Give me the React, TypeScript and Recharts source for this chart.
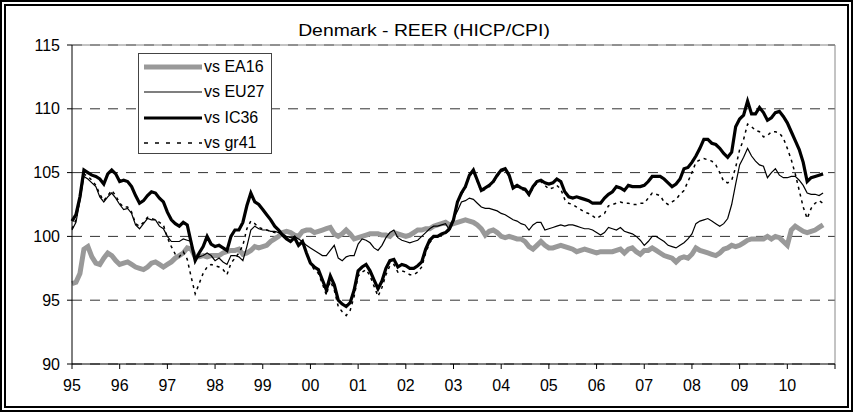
import React from "react";
import {
  LineChart,
  Line,
  XAxis,
  YAxis,
  CartesianGrid,
  ReferenceLine,
} from "recharts";

// monthly values, Jan 1995 .. Oct 2010
const EA16 = [
  96.3, 96.4, 97.1, 99.0, 99.2, 98.4, 97.9, 97.8, 98.3, 98.7, 98.5, 98.1,
  97.8, 97.9, 98.0, 97.8, 97.6, 97.5, 97.4, 97.6, 97.9, 98.0, 97.8, 97.6,
  97.8, 98.0, 98.3, 98.5, 98.7, 99.1, 99.0, 98.4, 98.4, 98.5, 98.4, 98.5,
  98.5, 98.5, 98.7, 98.8, 98.9, 98.9, 99.0, 98.6, 98.7, 98.9, 99.2, 99.1,
  99.2, 99.3, 99.6, 99.8, 100.0, 100.3, 100.4, 100.3, 100.1, 100.0, 100.4, 100.5,
  100.5, 100.3, 100.4, 100.5, 100.6, 100.7, 100.2, 100.0, 100.2, 100.5, 100.2, 99.8,
  99.9, 100.0, 100.1, 100.2, 100.2, 100.2, 100.1, 100.1, 100.0, 100.3, 100.2, 100.1,
  100.0, 100.1, 100.3, 100.5, 100.5, 100.6, 100.6, 100.8, 100.9, 101.0, 101.1, 100.9,
  101.0, 101.1, 101.2, 101.3, 101.2, 101.1, 100.9, 100.6, 100.1, 100.4, 100.5, 100.3,
  100.0, 99.9, 100.0, 99.9, 99.8, 99.8, 99.6, 99.2, 99.0, 99.3, 99.6, 99.3,
  99.1, 99.1, 99.2, 99.3, 99.2, 99.1, 99.0, 98.8, 98.9, 99.0, 98.9, 98.8,
  98.7, 98.8, 98.8, 98.8, 98.8, 98.9, 99.0, 98.7, 99.0, 99.1, 98.8, 98.6,
  98.9, 98.9, 99.1, 98.9, 98.7, 98.5, 98.4, 98.3, 98.0, 98.3, 98.4, 98.3,
  98.6, 99.1, 98.9, 98.8, 98.7, 98.6, 98.5, 98.7, 99.0, 99.1, 99.3, 99.2,
  99.3, 99.5, 99.7, 99.8, 99.8, 99.8, 99.8, 100.0, 99.8, 100.0, 99.9, 99.6,
  99.3, 100.5, 100.8, 100.6, 100.4, 100.3, 100.4, 100.5, 100.7, 100.9,
];

const EU27 = [
  100.5, 101.1, 102.8, 104.7, 104.5, 104.2, 103.9, 103.1, 102.7, 103.1, 103.4, 103.0,
  102.5, 102.1, 102.2, 101.8, 100.9, 100.6, 101.0, 101.4, 101.3, 101.3, 100.8, 100.6,
  100.0, 99.6, 99.6, 99.6, 99.8, 99.7, 99.6, 98.3, 98.4, 98.5, 98.7, 98.5,
  98.1, 98.3, 98.0, 97.8, 98.5, 98.5, 98.4, 98.1, 99.2, 100.5, 100.8, 100.6,
  100.5, 100.5, 100.4, 100.4, 100.3, 100.2, 100.0, 99.9, 100.0, 99.8, 99.6, 99.3,
  99.1, 98.9, 98.7, 98.5, 98.5, 98.9, 99.3, 98.3, 98.1, 98.4, 98.5, 98.5,
  99.4, 99.8, 99.7, 99.5, 99.1, 98.9, 99.3, 99.9, 100.3, 100.5, 99.9, 99.7,
  99.6, 99.5, 99.6, 99.7, 100.0, 100.3, 100.6, 100.8, 100.8, 100.9, 101.0, 100.5,
  101.4, 102.0, 102.7, 102.8, 103.0, 102.9, 102.6, 102.3, 102.2, 102.2, 102.1, 102.0,
  101.8, 101.7, 101.5, 101.3, 101.2, 101.0, 100.9, 100.5, 100.9, 101.1, 101.1, 100.5,
  100.6, 100.7, 100.8, 100.9, 100.8, 100.9, 100.9, 100.8, 100.7, 100.6, 100.6, 100.5,
  100.3, 100.1, 100.3, 100.7, 100.6, 100.5, 100.7, 100.4, 100.3, 100.2, 100.0, 99.7,
  99.3, 99.6, 100.0, 100.0, 99.8, 99.6, 99.3, 99.2, 99.1, 99.3, 99.5, 99.8,
  100.2, 101.0, 101.2, 101.3, 101.4, 101.2, 101.0, 100.8, 101.0, 101.4, 102.5, 104.1,
  105.6, 106.2, 106.9, 106.3, 105.9, 105.6, 105.5, 104.6, 105.0, 105.3, 104.8, 104.6,
  104.6, 104.7, 104.7, 104.4, 104.0, 103.4, 103.3, 103.3, 103.2, 103.4,
];

const IC36 = [
  101.2, 101.7, 103.1, 105.2, 105.0, 104.8, 104.7, 104.5, 104.1, 104.9, 105.2, 104.9,
  104.3, 104.4, 104.3, 103.9, 103.2, 102.6, 102.8, 103.2, 103.5, 103.4, 103.0, 102.7,
  101.9, 101.3, 101.0, 100.8, 101.1, 100.9, 99.5, 98.1, 98.7, 99.2, 100.0, 99.4,
  99.2, 99.3, 99.1, 98.9, 100.0, 100.5, 100.5, 101.1, 102.4, 103.4, 102.7, 102.5,
  102.1, 101.7, 101.3, 100.8, 100.5, 100.1, 99.8, 99.6, 99.9, 99.3, 99.6, 98.7,
  97.9, 97.6, 97.4, 96.6, 95.8, 96.9, 96.2, 95.0, 94.7, 94.5, 94.8, 95.8,
  97.3, 97.6, 97.8, 97.3, 96.6, 95.9, 96.5, 97.5, 98.1, 98.2, 97.6, 97.8,
  97.7, 97.5, 97.5, 97.7, 98.0, 99.0, 99.7, 100.0, 100.0, 100.2, 100.3, 100.6,
  101.3, 102.7, 103.4, 103.9, 104.8, 105.2, 104.4, 103.6, 103.8, 104.0, 104.3, 104.8,
  105.2, 105.3, 104.8, 103.8, 104.0, 103.8, 103.7, 103.3, 103.9, 104.3, 104.4, 104.2,
  104.1, 104.2, 104.5, 104.3, 103.5, 103.1, 103.0, 103.1, 103.0, 102.9, 102.8, 102.6,
  102.6, 102.6, 103.0, 103.3, 103.5, 103.9, 103.8, 103.6, 104.0, 103.9, 103.9, 103.9,
  104.0, 104.3, 104.7, 104.7, 104.7, 104.5, 104.2, 103.9, 104.1, 104.5, 105.3, 105.4,
  105.8, 106.3, 106.9, 107.6, 107.6, 107.3, 107.2, 106.9, 106.5, 106.2, 106.6, 108.6,
  109.2, 109.5, 110.6, 109.6, 109.6, 110.1, 109.7, 109.1, 109.3, 109.7, 109.8, 109.4,
  108.9, 108.2, 107.5, 106.8, 105.8, 104.3, 104.6, 104.7, 104.8, 104.9,
];

const GR41 = [
  100.6, 101.3, 103.0, 104.9, 104.7, 104.4, 104.0, 103.3, 102.8, 103.2, 103.6, 103.2,
  102.6, 102.3, 102.3, 101.9, 101.0, 100.8, 101.1, 101.5, 101.4, 101.3, 101.1, 100.9,
  99.9, 99.2, 98.6, 98.4, 98.8, 98.2, 96.8, 95.5, 96.3, 97.1, 97.6, 97.8,
  97.7, 97.6, 97.4, 97.0, 97.9, 98.3, 98.7, 99.3, 100.6, 101.2, 101.0, 100.7,
  100.6, 100.5, 100.4, 100.3, 100.3, 100.1, 99.9, 99.7, 99.9, 99.4, 99.5, 98.7,
  97.8, 97.4, 97.1, 96.3, 95.4, 96.5, 95.8, 94.5, 94.1, 93.8, 94.2, 95.3,
  96.9, 97.2, 97.4, 96.9, 96.1, 95.3, 96.0, 97.0, 97.7, 97.8, 97.2, 97.3,
  97.2, 97.0, 97.0, 97.2, 97.6, 98.7, 99.5, 99.9, 100.0, 100.1, 100.2, 100.5,
  101.2, 102.6, 103.3, 103.8, 104.7, 105.1, 104.3, 103.5, 103.7, 103.9, 104.2, 104.7,
  105.1, 105.2, 104.7, 103.7, 103.9, 103.7, 103.6, 103.2, 103.8, 104.2, 104.3, 104.0,
  103.7, 103.8, 104.0, 103.7, 102.9, 102.6, 102.5, 102.3, 102.1, 101.9, 101.8, 101.6,
  101.4, 101.6, 101.8, 102.4, 102.5, 102.6, 102.7, 102.6, 102.6, 102.5, 102.5, 102.6,
  102.6, 103.0, 103.4, 103.3, 103.2, 102.7, 102.5, 102.7, 102.9, 103.3, 103.6, 104.3,
  105.0, 105.8, 106.0, 106.1, 106.0, 105.9, 105.6, 105.0, 104.3, 104.2, 104.4, 105.4,
  106.8, 107.6, 108.8, 108.6, 108.3, 108.2, 107.8, 107.9, 108.2, 108.2, 108.1, 107.7,
  106.9, 106.0, 104.9, 103.6, 102.3, 101.4, 102.2, 102.6, 102.8, 102.6,
];

const YEAR_LABELS = ["95", "96", "97", "98", "99", "00", "01", "02", "03", "04", "05", "06", "07", "08", "09", "10"];
const Y_TICKS = [90, 95, 100, 105, 110, 115];

const SERIES = [
  { key: "ea16", name: "vs EA16", color: "#999999", width: 5, dash: undefined },
  { key: "eu27", name: "vs EU27", color: "#000000", width: 1.2, dash: undefined },
  { key: "ic36", name: "vs IC36", color: "#000000", width: 3.2, dash: undefined },
  { key: "gr41", name: "vs gr41", color: "#000000", width: 1.5, dash: "3 4" },
];

const FONT = '"Liberation Sans", Arial, sans-serif';
const X_END = YEAR_LABELS.length * 12;
const X_TICKS = YEAR_LABELS.map((_, i) => i * 12).concat(X_END);

const data = IC36.map((_, i) => ({
  m: i,
  ea16: EA16[i],
  eu27: EU27[i],
  ic36: IC36[i],
  gr41: GR41[i],
}));

function LegendBox() {
  return (
    <div
      style={{
        position: "absolute",
        left: 138,
        top: 53,
        width: 134,
        height: 101,
        boxSizing: "border-box",
        border: "1px solid #444",
        background: "#fff",
        fontFamily: FONT,
        fontSize: 16,
        color: "#000",
      }}
    >
      {SERIES.map((s, i) => (
        <div
          key={s.key}
          style={{ position: "absolute", left: 4, top: i * 25.5, height: 25.5, display: "flex", alignItems: "center" }}
        >
          <svg width={60} height={12}>
            <line
              x1={1}
              x2={59}
              y1={6}
              y2={6}
              stroke={s.color}
              strokeWidth={s.width}
              strokeDasharray={s.dash ? "4 7" : undefined}
            />
          </svg>
          <span style={{ marginLeft: 1, whiteSpace: "nowrap" }}>{s.name}</span>
        </div>
      ))}
    </div>
  );
}

export default function App() {
  return (
    <div style={{ position: "absolute", left: 0, top: 0, width: 853, height: 412, background: "#fff" }}>
      <LineChart
        width={853}
        height={412}
        data={data}
        margin={{ top: 45, right: 18, left: 0, bottom: 18 }}
      >
        <CartesianGrid vertical={false} stroke="#333" strokeDasharray="10 8" />
        <XAxis
          dataKey="m"
          type="number"
          domain={[0, X_END]}
          ticks={X_TICKS}
          tickFormatter={(v: number) => YEAR_LABELS[v / 12] ?? ""}
          height={30}
          stroke="#000"
          tickSize={5}
          tickMargin={11}
          tick={{ fill: "#000", fontSize: 16, fontFamily: FONT }}
        />
        <YAxis
          domain={[90, 115]}
          ticks={Y_TICKS}
          width={72}
          stroke="#000"
          tickSize={5}
          tickMargin={7}
          tick={{ fill: "#000", fontSize: 16, fontFamily: FONT }}
        />
        <ReferenceLine y={115} stroke="#888" />
        <ReferenceLine x={X_END} stroke="#888" />
        {SERIES.map((s) => (
          <Line
            key={s.key}
            type="linear"
            dataKey={s.key}
            name={s.name}
            stroke={s.color}
            strokeWidth={s.width}
            strokeDasharray={s.dash}
            dot={false}
            isAnimationActive={false}
          />
        ))}
      </LineChart>
      <LegendBox />
      <div
        style={{
          position: "absolute",
          left: 423.5,
          top: 23,
          fontFamily: FONT,
          fontSize: 16,
          lineHeight: "16px",
          whiteSpace: "nowrap",
          transform: "translateX(-50%) scaleX(1.21)",
          color: "#000",
        }}
      >
        Denmark - REER (HICP/CPI)
      </div>
      <div
        style={{
          position: "absolute",
          left: 0,
          top: 0,
          width: 853,
          height: 412,
          boxSizing: "border-box",
          border: "6px double #000",
          pointerEvents: "none",
        }}
      />
    </div>
  );
}
